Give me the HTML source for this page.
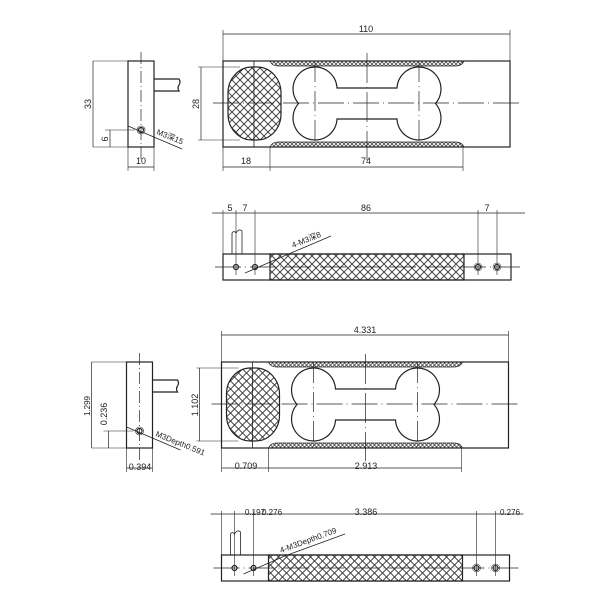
<!DOCTYPE html>
<html><head><meta charset="utf-8"><style>
html,body{margin:0;padding:0;background:#fff;}
svg{display:block;}
text{font-family:"Liberation Sans","Noto Sans CJK SC",sans-serif;fill:#222;}
</style></head><body>
<svg width="600" height="600" viewBox="0 0 600 600" xmlns="http://www.w3.org/2000/svg">
<defs>
<pattern id="h" width="8" height="8" patternUnits="userSpaceOnUse">
<path d="M0,0 L8,8 M8,0 L0,8" stroke="#333" stroke-width="0.9"/>
</pattern>
<pattern id="hs" width="4" height="4" patternUnits="userSpaceOnUse">
<path d="M0,0 L4,4 M4,0 L0,4" stroke="#333" stroke-width="0.7"/>
</pattern>
<g id="top" fill="none" stroke="#222" stroke-width="1.2">
  <rect x="128" y="61" width="26" height="86"/>
  <path d="M154,79 H179 Q181,82 179,85 Q177,88 179,91 H154"/>
  <line x1="141" y1="52" x2="141" y2="160" stroke-dasharray="12,3,1,3" stroke-width="0.7"/>
  <circle cx="141" cy="130" r="2.5"/><circle cx="141" cy="130" r="4" stroke-width="0.6"/>
  <line x1="128" y1="126" x2="182" y2="149" stroke-width="0.8"/>
  <line x1="93" y1="61" x2="128" y2="61" stroke-width="0.6"/>
  <line x1="93" y1="147" x2="128" y2="147" stroke-width="0.6"/>
  <line x1="93" y1="61" x2="93" y2="147" stroke-width="0.7"/>
  <line x1="105" y1="130" x2="135" y2="130" stroke-width="0.6"/>
  <line x1="110" y1="130" x2="110" y2="147" stroke-width="0.7"/>
  <line x1="128" y1="147" x2="128" y2="171" stroke-width="0.6"/>
  <line x1="154" y1="147" x2="154" y2="171" stroke-width="0.6"/>
  <line x1="128" y1="167" x2="154" y2="167" stroke-width="0.7"/>
  <rect x="223" y="61" width="287" height="86"/>
  <line x1="223" y1="34" x2="510" y2="34" stroke-width="0.7"/>
  <line x1="223" y1="30" x2="223" y2="61" stroke-width="0.6"/>
  <line x1="510" y1="30" x2="510" y2="61" stroke-width="0.6"/>
  <rect x="228" y="67" width="53" height="73" rx="24" ry="26" fill="url(#h)"/>
  <line x1="254" y1="61" x2="254" y2="147" stroke-width="0.8"/>
  <path d="M270,61 Q272,66 278,66 H456 Q462,66 464,61 Z" fill="url(#hs)" stroke-width="0.8"/>
  <path d="M270,147 Q272,142 278,142 H456 Q462,142 464,147 Z" fill="url(#hs)" stroke-width="0.8"/>
  <path d="M337,88 L397,88 A22,22 0 1 1 435.5,103.5 A22,22 0 1 1 397,119 L337,119 A22,22 0 1 1 298.5,103.5 A22,22 0 1 1 337,88 Z" stroke-width="1.2"/>
  <line x1="213" y1="103" x2="523" y2="103" stroke-dasharray="26,4,1,4" stroke-width="0.7"/>
  <line x1="315" y1="62" x2="315" y2="145" stroke-dasharray="20,4,1,4" stroke-width="0.7"/>
  <line x1="419" y1="62" x2="419" y2="145" stroke-dasharray="20,4,1,4" stroke-width="0.7"/>
  <line x1="367" y1="53" x2="367" y2="160" stroke-dasharray="30,4,1,4" stroke-width="0.7"/>
  <line x1="201" y1="67" x2="201" y2="140" stroke-width="0.7"/>
  <line x1="198" y1="67" x2="240" y2="67" stroke-width="0.6"/>
  <line x1="198" y1="140" x2="240" y2="140" stroke-width="0.6"/>
  <line x1="223" y1="147" x2="223" y2="171" stroke-width="0.6"/>
  <line x1="270" y1="147" x2="270" y2="171" stroke-width="0.6"/>
  <line x1="463" y1="147" x2="463" y2="171" stroke-width="0.6"/>
  <line x1="223" y1="167" x2="463" y2="167" stroke-width="0.7"/>
  <rect x="223" y="254" width="288" height="26"/>
  <rect x="270" y="254" width="194" height="26" fill="url(#h)"/>
  <path d="M232,254 V233 Q234,230 236,233 Q239,228 242,231 V254" stroke-width="0.8"/>
  <line x1="215" y1="267" x2="520" y2="267" stroke-dasharray="26,4,1,4" stroke-width="0.7"/>
  <circle cx="236" cy="267" r="2.5"/><circle cx="255" cy="267" r="2.5"/>
  <circle cx="478" cy="267" r="2.5"/><circle cx="497" cy="267" r="2.5"/>
  <circle cx="478" cy="267" r="4" stroke-width="0.5"/><circle cx="497" cy="267" r="4" stroke-width="0.5"/>
  <line x1="212" y1="213" x2="525" y2="213" stroke-width="0.7"/>
  <line x1="223" y1="210" x2="223" y2="254" stroke-width="0.6"/>
  <line x1="236" y1="210" x2="236" y2="275" stroke-width="0.6"/>
  <line x1="255" y1="210" x2="255" y2="275" stroke-width="0.6"/>
  <line x1="478" y1="210" x2="478" y2="275" stroke-width="0.6"/>
  <line x1="497" y1="210" x2="497" y2="275" stroke-width="0.6"/>
  <line x1="245" y1="273" x2="284" y2="256" stroke-width="0.8"/>
</g>
</defs>
<use href="#top"/>
<use href="#top" transform="translate(-1.5,301)"/>
<g font-size="9">
<text x="366" y="32" text-anchor="middle">110</text>
<text x="246" y="164" text-anchor="middle">18</text>
<text x="366" y="164" text-anchor="middle">74</text>
<text x="141" y="164" text-anchor="middle">10</text>
<text transform="translate(91,104) rotate(-90)" text-anchor="middle">33</text>
<text transform="translate(108,139) rotate(-90)" text-anchor="middle">6</text>
<text transform="translate(199,104) rotate(-90)" text-anchor="middle">28</text>
<text transform="translate(156,134) rotate(22)" font-size="8">M3深15</text>
<text x="230" y="211" text-anchor="middle">5</text>
<text x="245" y="211" text-anchor="middle">7</text>
<text x="366" y="211" text-anchor="middle">86</text>
<text x="487" y="211" text-anchor="middle">7</text>
<text transform="translate(293,248) rotate(-22)" font-size="8">4-M3深8</text>
</g>
<line x1="284" y1="256" x2="331" y2="236" stroke="#222" stroke-width="0.8"/>
<g font-size="9">
<text x="365" y="333" text-anchor="middle">4.331</text>
<text x="246" y="469" text-anchor="middle">0.709</text>
<text x="366" y="469" text-anchor="middle">2.913</text>
<text x="140" y="470" text-anchor="middle">0.394</text>
<text transform="translate(90,406) rotate(-90)" text-anchor="middle" font-size="8">1.299</text>
<text transform="translate(107,414) rotate(-90)" text-anchor="middle">0.236</text>
<text transform="translate(198,405) rotate(-90)" text-anchor="middle">1.102</text>
<text transform="translate(155,436) rotate(22)" font-size="8">M3Depth0.591</text>
<text x="245" y="515" font-size="8">0.197</text>
<text x="262" y="515" font-size="8">0.276</text>
<text x="366" y="515" text-anchor="middle">3.386</text>
<text x="500" y="515" font-size="8">0.276</text>
<text transform="translate(281,553) rotate(-20)" font-size="8">4-M3Depth0.709</text>
</g>
<line x1="282" y1="557" x2="345" y2="534" stroke="#222" stroke-width="0.8"/>
</svg>
</body></html>
